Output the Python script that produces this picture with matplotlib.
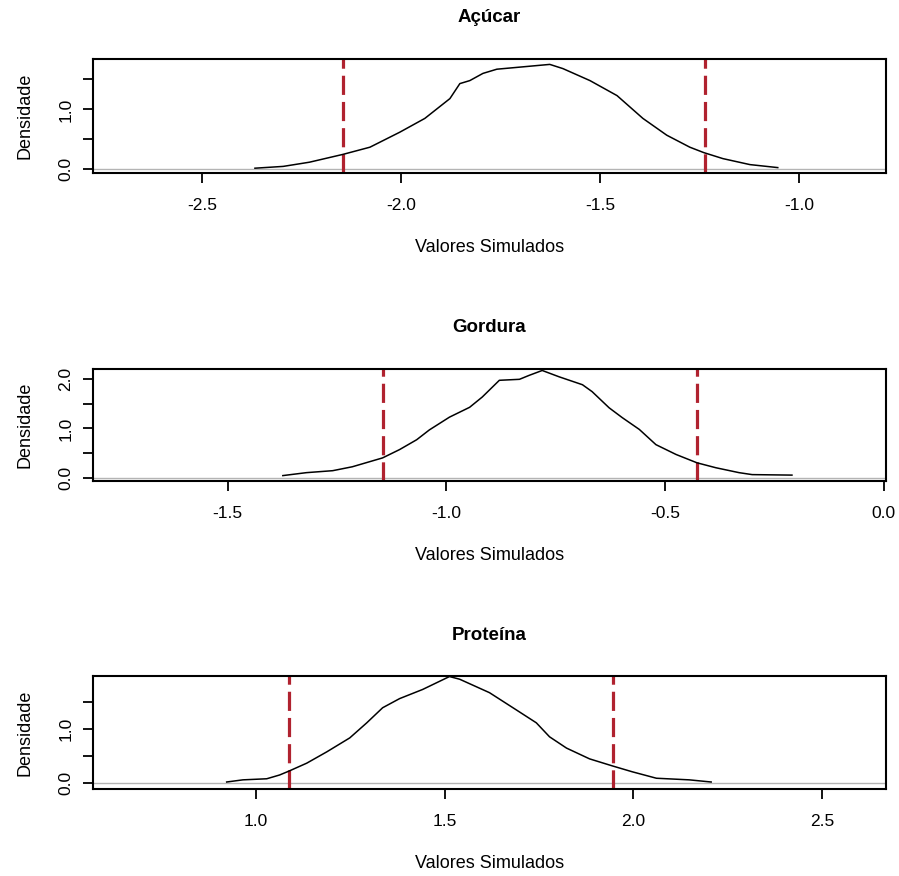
import matplotlib
matplotlib.use("Agg")
import matplotlib.pyplot as plt

plt.rcParams['font.family'] = ['Liberation Sans', 'DejaVu Sans']

titles = ["Açúcar", "Gordura", "Proteína"]
xlabel = "Valores Simulados"
ylabel = "Densidade"

# Panel 1: Açúcar
acucar_x = [-2.367, -2.296, -2.23, -2.146, -2.078, -2.003, -1.94, -1.877, -1.852, -1.827,
            -1.794, -1.759, -1.709, -1.626, -1.593, -1.525, -1.457, -1.392, -1.332, -1.274,
            -1.239, -1.191, -1.123, -1.053]
acucar_d = [0.02, 0.05, 0.12, 0.25, 0.37, 0.62, 0.85, 1.18, 1.43, 1.48,
            1.60, 1.67, 1.70, 1.75, 1.68, 1.48, 1.23, 0.85, 0.57, 0.37,
            0.28, 0.18, 0.08, 0.03]
acucar_ci = [-2.146, -1.236]

# Panel 2: Gordura
gordura_x = [-1.374, -1.320, -1.260, -1.215, -1.146, -1.107, -1.068, -1.039, -0.993, -0.947,
             -0.918, -0.879, -0.833, -0.811, -0.781, -0.742, -0.689, -0.667, -0.628, -0.598,
             -0.559, -0.521, -0.475, -0.427, -0.384, -0.331, -0.301, -0.210]
gordura_d = [0.04, 0.10, 0.14, 0.22, 0.40, 0.57, 0.77, 0.97, 1.23, 1.43,
             1.64, 1.98, 2.00, 2.08, 2.18, 2.05, 1.89, 1.75, 1.42, 1.22,
             0.98, 0.67, 0.47, 0.30, 0.20, 0.10, 0.06, 0.05]
gordura_ci = [-1.146, -0.427]

# Panel 3: Proteína
proteina_x = [0.923, 0.966, 1.029, 1.063, 1.087, 1.135, 1.188, 1.249, 1.294, 1.336,
              1.381, 1.442, 1.513, 1.540, 1.619, 1.690, 1.743, 1.778, 1.823, 1.884,
              1.944, 1.997, 2.061, 2.148, 2.206]
proteina_d = [0.02, 0.06, 0.08, 0.15, 0.22, 0.37, 0.58, 0.84, 1.12, 1.40,
              1.57, 1.74, 1.98, 1.93, 1.68, 1.36, 1.12, 0.86, 0.65, 0.45,
              0.32, 0.21, 0.09, 0.06, 0.02]
proteina_ci = [1.087, 1.947]

xticks = [[-2.5, -2.0, -1.5, -1.0], [-1.5, -1.0, -0.5, 0.0], [1.0, 1.5, 2.0, 2.5]]
xticklabels = [["-2.5", "-2.0", "-1.5", "-1.0"], ["-1.5", "-1.0", "-0.5", "0.0"], ["1.0", "1.5", "2.0", "2.5"]]
yticks = [[0, 0.5, 1.0, 1.5], [0, 0.5, 1.0, 1.5, 2.0], [0, 0.5, 1.0, 1.5]]
yticklabels = [["0.0", "", "1.0", ""], ["0.0", "", "1.0", "", "2.0"], ["0.0", "", "1.0", ""]]
xlims = [(-2.774, -0.781), (-1.808, 0.005), (0.569, 2.669)]
ylims = [(-0.06, 1.84), (-0.07, 2.21), (-0.11, 1.99)]

series = [(acucar_x, acucar_d, acucar_ci), (gordura_x, gordura_d, gordura_ci),
          (proteina_x, proteina_d, proteina_ci)]

W, H = 899, 876
fig = plt.figure(figsize=(W / 100, H / 100), dpi=100)

left_px, right_px = 93, 886
boxes = [(59, 173), (369, 481), (676, 789)]

for i, (top, bot) in enumerate(boxes):
    ax = fig.add_axes([left_px / W, 1 - bot / H, (right_px - left_px) / W, (bot - top) / H])
    x, d, ci = series[i]
    ax.axhline(0, color="#b4b4b4", lw=1.0, zorder=1)
    ax.plot(x, d, color="black", lw=1.1, zorder=3)
    for c in ci:
        ax.axvline(c, color="#b0222f", lw=2.3, dashes=(6, 2.2), zorder=2)
    ax.set_xlim(*xlims[i])
    ax.set_ylim(*ylims[i])
    ax.set_xticks(xticks[i])
    ax.set_xticklabels(xticklabels[i], fontsize=12.5)
    ax.set_yticks(yticks[i])
    ax.set_yticklabels(yticklabels[i], fontsize=12.5, rotation=90, va="center")
    ax.tick_params(axis="x", length=7, width=1.3, pad=11)
    ax.tick_params(axis="y", length=7, width=1.3, pad=7)
    for s in ax.spines.values():
        s.set_linewidth(1.5)
    cx = (left_px + right_px) / 2 / W
    fig.text(cx, 1 - (top - 41) / H, titles[i], ha="center", va="center",
             fontsize=13.5, fontweight="bold")
    fig.text(cx, 1 - (bot + 75) / H, xlabel, ha="center", va="center", fontsize=13)
    fig.text(25 / W, 1 - ((top + bot) / 2) / H, ylabel, ha="center", va="center",
             rotation=90, fontsize=13)

fig.savefig("out.png", dpi=100)
